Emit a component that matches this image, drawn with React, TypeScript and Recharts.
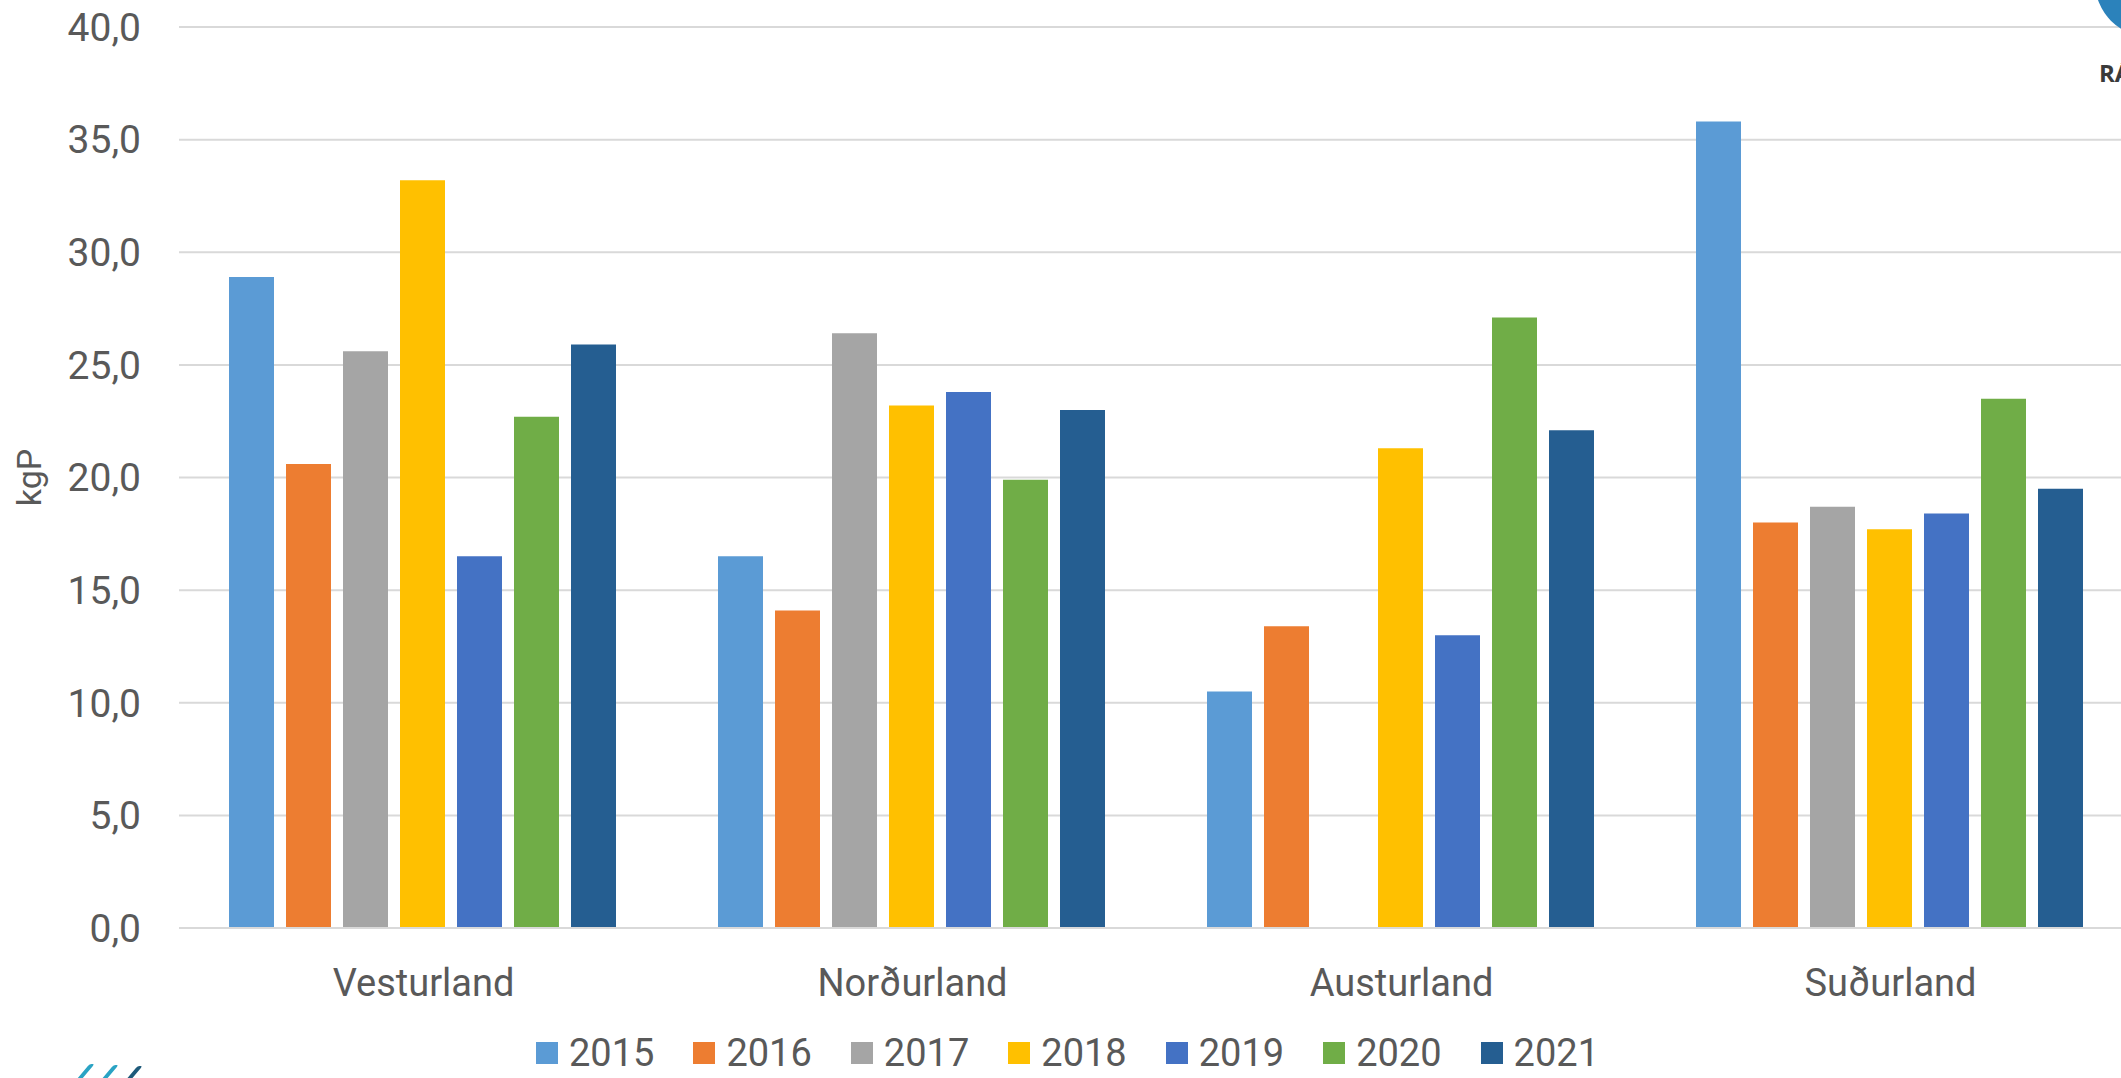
import React from "react";
import {
  BarChart,
  Bar,
  XAxis,
  YAxis,
  CartesianGrid,
  Legend,
} from "recharts";

// Regions on the x axis
const regions = ["Vesturland", "Norðurland", "Austurland", "Suðurland"];

// kgP per region, one array per year (Austurland 2017 has no value)
const y2015 = [28.9, 16.5, 10.5, 35.8];
const y2016 = [20.6, 14.1, 13.4, 18.0];
const y2017 = [25.6, 26.4, null, 18.7];
const y2018 = [33.2, 23.2, 21.3, 17.7];
const y2019 = [16.5, 23.8, 13.0, 18.4];
const y2020 = [22.7, 19.9, 27.1, 23.5];
const y2021 = [25.9, 23.0, 22.1, 19.5];

const years = ["2015", "2016", "2017", "2018", "2019", "2020", "2021"];
const yearValues = [y2015, y2016, y2017, y2018, y2019, y2020, y2021];
const colors = ["#5B9BD5", "#ED7D31", "#A5A5A5", "#FFC000", "#4472C4", "#70AD47", "#255E91"];

const yTicks = [0, 5, 10, 15, 20, 25, 30, 35, 40];

const data = regions.map((region, i) => {
  const row: Record<string, string | number | null> = { region };
  years.forEach((y, j) => {
    row[y] = yearValues[j][i];
  });
  return row;
});

const FONT = "Roboto, 'Noto Sans', sans-serif";
const TEXT = "#595959";

const fmt = (v: number) => v.toFixed(1).replace(".", ",");

const YLabel = (props: any) => {
  const { x, y, height } = props.viewBox;
  const cx = x + 29;
  const cy = y + height / 2;
  return (
    <text
      x={cx}
      y={cy}
      transform={`rotate(-90, ${cx}, ${cy})`}
      textAnchor="middle"
      dominantBaseline="central"
      fill={TEXT}
      fontSize={34}
      fontFamily={FONT}
    >
      kgP
    </text>
  );
};

const LegendContent = () => (
  <div
    style={{
      display: "flex",
      justifyContent: "center",
      alignItems: "center",
      height: 40,
      fontFamily: FONT,
      fontSize: 38,
      color: TEXT,
    }}
  >
    {years.map((y, i) => (
      <div key={y} style={{ display: "flex", alignItems: "center", marginRight: i < years.length - 1 ? 39 : 0 }}>
        <span style={{ width: 22, height: 22, background: colors[i], marginRight: 11, display: "inline-block" }} />
        <span style={{ lineHeight: "40px" }}>{y}</span>
      </div>
    ))}
  </div>
);

export default function App() {
  return (
    <div
      style={{
        position: "absolute",
        left: 0,
        top: 0,
        width: 2121,
        height: 1078,
        overflow: "hidden",
        background: "#fff",
      }}
    >
      <BarChart
        width={2140}
        height={1078}
        data={data}
        margin={{ top: 27, right: 5, left: 0, bottom: 5 }}
        barCategoryGap={50}
        barGap={12}
      >
        <CartesianGrid vertical={false} stroke="#D9D9D9" strokeWidth={2} />
        <XAxis
          dataKey="region"
          height={105}
          axisLine={{ stroke: "#D9D9D9", strokeWidth: 2 }}
          tickLine={false}
          tickSize={0}
          tickMargin={41}
          tick={{ fill: TEXT, fontSize: 38, fontFamily: FONT }}
        />
        <YAxis
          width={179}
          domain={[0, 40]}
          ticks={yTicks}
          tickFormatter={fmt}
          axisLine={false}
          tickLine={false}
          tickSize={0}
          tickMargin={38}
          tick={{ fill: TEXT, fontSize: 39, fontFamily: FONT }}
          label={<YLabel />}
        />
        <Legend verticalAlign="bottom" align="center" content={<LegendContent />} />
        {years.map((y, i) => (
          <Bar key={y} dataKey={y} fill={colors[i]} isAnimationActive={false} />
        ))}
      </BarChart>
      {/* partial logo, top right */}
      <div
        style={{
          position: "absolute",
          left: 2095,
          top: -73,
          width: 110,
          height: 110,
          borderRadius: "50%",
          background: "#2B82BB",
        }}
      />
      <div
        style={{
          position: "absolute",
          left: 2099,
          top: 56,
          fontFamily: "'Open Sans', sans-serif",
          fontWeight: 700,
          fontSize: 24,
          color: "#3A3A3A",
        }}
      >
        RÁ
      </div>
      {/* partial logo, bottom left */}
      {[0, 1, 2].map((k) => (
        <div
          key={k}
          style={{
            position: "absolute",
            left: 82 + k * 24,
            top: 1064 + k * 1,
            width: 5,
            height: 18,
            background: k === 2 ? "#1E5A7A" : "#2AA3C4",
            transform: "skewX(-40deg)",
            borderRadius: 2,
          }}
        />
      ))}
    </div>
  );
}
